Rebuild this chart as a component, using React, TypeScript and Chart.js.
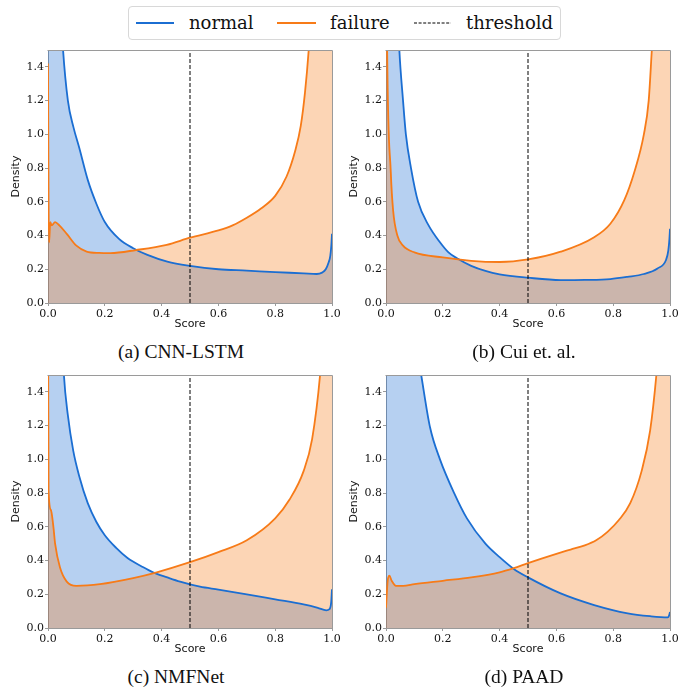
import React, { useEffect, useRef } from "react";
import { Chart, registerables } from "chart.js";

Chart.register(...registerables);

// ---------- data ----------
const xTicks = [0, 0.2, 0.4, 0.6, 0.8, 1.0];
const yTicks = [0, 0.2, 0.4, 0.6, 0.8, 1.0, 1.2, 1.4];
const thresholdScore = 0.5;
const seriesNames = ["normal", "failure", "threshold"];

// (a) CNN-LSTM
const aNormalX = [0, 0.02, 0.04, 0.053, 0.07, 0.09, 0.11, 0.14, 0.17, 0.2, 0.25, 0.3, 0.35, 0.42, 0.5, 0.6, 0.7, 0.8, 0.9, 0.946, 0.965, 0.978, 0.988, 0.994, 0.998, 1.0];
const aNormalY = [6.0, 3.2, 1.9, 1.5, 1.2, 1.04, 0.92, 0.73, 0.59, 0.48, 0.38, 0.325, 0.285, 0.245, 0.22, 0.2, 0.192, 0.183, 0.176, 0.172, 0.18, 0.2, 0.24, 0.28, 0.35, 0.41];
const aFailureX = [0, 0.002, 0.004, 0.008, 0.013, 0.025, 0.04, 0.066, 0.1, 0.136, 0.18, 0.22, 0.31, 0.418, 0.5, 0.6, 0.65, 0.7, 0.75, 0.8, 0.84, 0.87, 0.89, 0.905, 0.918, 0.935, 0.96, 1.0];
const aFailureY = [1.42, 0.6, 0.36, 0.48, 0.46, 0.48, 0.46, 0.41, 0.34, 0.305, 0.297, 0.296, 0.314, 0.345, 0.387, 0.43, 0.46, 0.505, 0.56, 0.635, 0.75, 0.9, 1.05, 1.25, 1.5, 1.95, 2.8, 5.0];

// (b) Cui et. al.
const bNormalX = [0, 0.02, 0.035, 0.047, 0.06, 0.07, 0.088, 0.113, 0.15, 0.19, 0.22, 0.25, 0.3, 0.35, 0.4, 0.5, 0.615, 0.7, 0.79, 0.85, 0.908, 0.956, 0.986, 0.994, 0.998, 1.0];
const bNormalY = [6.0, 3.0, 2.0, 1.5, 1.2, 1.0, 0.8, 0.6, 0.46, 0.36, 0.3, 0.265, 0.22, 0.19, 0.17, 0.15, 0.136, 0.137, 0.142, 0.155, 0.172, 0.205, 0.255, 0.31, 0.38, 0.44];
const bFailureX = [0, 0.004, 0.017, 0.025, 0.04, 0.06, 0.1, 0.2, 0.3, 0.4, 0.5, 0.615, 0.733, 0.79, 0.839, 0.875, 0.908, 0.925, 0.936, 0.95, 0.97, 1.0];
const bFailureY = [2.5, 1.5, 0.77, 0.55, 0.4, 0.34, 0.3, 0.27, 0.25, 0.243, 0.258, 0.304, 0.39, 0.47, 0.61, 0.78, 1.0, 1.2, 1.5, 1.9, 2.6, 5.0];

// (c) NMFNet
const cNormalX = [0, 0.03, 0.056, 0.07, 0.089, 0.11, 0.14, 0.17, 0.2, 0.24, 0.28, 0.33, 0.37, 0.42, 0.465, 0.535, 0.6, 0.7, 0.8, 0.9, 0.95, 0.98, 0.99, 0.997, 1.0];
const cNormalY = [6.0, 2.5, 1.5, 1.26, 1.05, 0.9, 0.74, 0.63, 0.55, 0.475, 0.415, 0.365, 0.33, 0.3, 0.275, 0.245, 0.228, 0.2, 0.17, 0.14, 0.12, 0.105, 0.11, 0.15, 0.23];
const cFailureX = [0, 0.002, 0.01, 0.019, 0.025, 0.042, 0.066, 0.1, 0.183, 0.3, 0.383, 0.5, 0.6, 0.7, 0.8, 0.85, 0.9, 0.93, 0.958, 0.975, 1.0];
const cFailureY = [2.0, 0.82, 0.7, 0.6, 0.5, 0.36, 0.275, 0.25, 0.26, 0.296, 0.33, 0.39, 0.45, 0.52, 0.65, 0.76, 0.93, 1.12, 1.5, 1.9, 3.0];

// (d) PAAD
const dNormalX = [0, 0.05, 0.1, 0.124, 0.155, 0.19, 0.24, 0.285, 0.35, 0.4, 0.45, 0.5, 0.615, 0.733, 0.851, 0.93, 0.992, 0.997, 1.0];
const dNormalY = [4.5, 2.5, 1.75, 1.5, 1.19, 1.0, 0.8, 0.65, 0.5, 0.42, 0.35, 0.3, 0.205, 0.136, 0.087, 0.07, 0.063, 0.075, 0.095];
const dFailureX = [0, 0.006, 0.012, 0.02, 0.035, 0.06, 0.1, 0.2, 0.3, 0.4, 0.45, 0.5, 0.6, 0.65, 0.7, 0.74, 0.78, 0.82, 0.86, 0.9, 0.93, 0.952, 0.975, 1.0];
const dFailureY = [0.12, 0.28, 0.31, 0.28, 0.25, 0.25, 0.26, 0.28, 0.3, 0.33, 0.355, 0.385, 0.44, 0.465, 0.49, 0.52, 0.57, 0.64, 0.74, 0.93, 1.17, 1.5, 2.0, 3.0];

const captions = ["(a) CNN-LSTM", "(b) Cui et. al.", "(c) NMFNet", "(d) PAAD"];

// ---------- styles / layout ----------
const BLUE = "#1b6ed2";
const BLUE_FILL = "rgba(27,110,210,0.32)";
const ORANGE = "#f77b18";
const ORANGE_FILL = "rgba(247,123,24,0.32)";
const AXIS_GREY = "#9a9a9a";

const CANVAS_W = 345;
const CANVAS_H = 293;

type PanelLayout = { left: number; top: number; capX: number; capY: number };
const layouts: PanelLayout[] = [
  { left: 0, top: 42, capX: 181, capY: 352 },
  { left: 338, top: 42, capX: 524, capY: 352 },
  { left: 0, top: 367, capX: 176, capY: 677 },
  { left: 338, top: 367, capX: 524, capY: 677 },
];

const panelData = [
  [aNormalX, aNormalY, aFailureX, aFailureY],
  [bNormalX, bNormalY, bFailureX, bFailureY],
  [cNormalX, cNormalY, cFailureX, cFailureY],
  [dNormalX, dNormalY, dFailureX, dFailureY],
];

const zip = (xs: number[], ys: number[]) => xs.map((x, i) => ({ x, y: ys[i] }));

const framePlugin = {
  id: "frame",
  afterDatasetsDraw(chart: any) {
    const { ctx, chartArea } = chart;
    ctx.save();
    ctx.strokeStyle = AXIS_GREY;
    ctx.lineWidth = 1;
    ctx.beginPath();
    ctx.moveTo(Math.round(chartArea.left) - 0.5, Math.round(chartArea.top) + 0.5);
    ctx.lineTo(Math.round(chartArea.right) + 0.5, Math.round(chartArea.top) + 0.5);
    ctx.lineTo(Math.round(chartArea.right) + 0.5, Math.round(chartArea.bottom));
    ctx.stroke();
    ctx.restore();
  },
};

function PanelChart({ index }: { index: number }) {
  const ref = useRef<HTMLCanvasElement | null>(null);
  useEffect(() => {
    const [nx, ny, fx, fy] = panelData[index];
    const chart = new Chart(ref.current as HTMLCanvasElement, {
      type: "line",
      data: {
        datasets: [
          {
            label: seriesNames[0],
            data: zip(nx, ny),
            borderColor: BLUE,
            backgroundColor: BLUE_FILL,
            fill: "origin",
            borderWidth: 1.8,
            pointRadius: 0,
            cubicInterpolationMode: "monotone",
            order: 3,
          },
          {
            label: seriesNames[1],
            data: zip(fx, fy),
            borderColor: ORANGE,
            backgroundColor: ORANGE_FILL,
            fill: "origin",
            borderWidth: 1.8,
            pointRadius: 0,
            cubicInterpolationMode: "monotone",
            order: 2,
          },
          {
            label: seriesNames[2],
            data: [
              { x: thresholdScore, y: 0 },
              { x: thresholdScore, y: 1.5 },
            ],
            borderColor: "#000",
            borderWidth: 1,
            borderDash: [4, 2],
            pointRadius: 0,
            fill: false,
            order: 1,
          },
        ],
      } as any,
      options: {
        animation: false,
        responsive: false,
        layout: { padding: { top: 8, right: 13, bottom: 0, left: 0 } },
        plugins: {
          legend: { display: false },
          tooltip: { enabled: false },
          filler: { drawTime: "beforeDatasetsDraw" },
        } as any,
        scales: {
          x: {
            type: "linear",
            min: 0,
            max: 1,
            afterBuildTicks: (s: any) => {
              s.ticks = xTicks.map((v) => ({ value: v }));
            },
            afterFit: (s: any) => {
              s.height = 32;
            },
            ticks: {
              callback: (v: any) => Number(v).toFixed(1),
              font: { family: "DejaVu Serif", size: 11 },
              color: "#111",
              padding: 2,
              maxRotation: 0,
              autoSkip: false,
            },
            grid: { drawOnChartArea: false, drawTicks: true, tickLength: 3, color: AXIS_GREY },
            border: { color: AXIS_GREY, width: 1 },
            title: {
              display: true,
              text: "Score",
              font: { family: "DejaVu Sans", size: 11 },
              color: "#111",
              padding: { top: 0, bottom: 4 },
            },
          },
          y: {
            type: "linear",
            min: 0,
            max: 1.5,
            afterBuildTicks: (s: any) => {
              s.ticks = yTicks.map((v) => ({ value: v }));
            },
            afterFit: (s: any) => {
              s.width = 48;
            },
            ticks: {
              callback: (v: any) => Number(v).toFixed(1),
              font: { family: "DejaVu Serif", size: 11 },
              color: "#111",
              padding: 1,
              autoSkip: false,
            },
            grid: { drawOnChartArea: false, drawTicks: true, tickLength: 3, color: AXIS_GREY },
            border: { color: AXIS_GREY, width: 1 },
            title: {
              display: true,
              text: "Density",
              font: { family: "DejaVu Sans", size: 11 },
              color: "#111",
              padding: { top: 10, bottom: 0 },
            },
          },
        },
      } as any,
      plugins: [framePlugin],
    });
    return () => chart.destroy();
  }, [index]);
  const L = layouts[index];
  return (
    <>
      <canvas
        ref={ref}
        width={CANVAS_W}
        height={CANVAS_H}
        style={{ position: "absolute", left: L.left, top: L.top, width: CANVAS_W, height: CANVAS_H }}
      />
      <div
        style={{
          position: "absolute",
          left: L.capX,
          top: L.capY,
          transform: "translate(-50%, -50%)",
          fontFamily: "'Liberation Serif', 'Times New Roman', serif",
          fontSize: 19.5,
          lineHeight: 1,
          whiteSpace: "nowrap",
          color: "#111",
        }}
      >
        {captions[index]}
      </div>
    </>
  );
}

function Legend() {
  const text: React.CSSProperties = {
    position: "absolute",
    top: 16,
    transform: "translateY(-50%)",
    fontFamily: "'DejaVu Serif', serif",
    fontSize: 18,
    lineHeight: 1,
    color: "#111",
    whiteSpace: "nowrap",
  };
  return (
    <div
      style={{
        position: "absolute",
        left: 128,
        top: 6,
        width: 433,
        height: 34,
        border: "1px solid #d8d8d8",
        borderRadius: 4,
        background: "#fff",
        boxSizing: "border-box",
      }}
    >
      <svg width={431} height={32} style={{ position: "absolute", left: 0, top: 0 }}>
        <line x1={7} x2={45} y1={16} y2={16} stroke={BLUE} strokeWidth={1.8} />
        <line x1={148} x2={187} y1={16} y2={16} stroke={ORANGE} strokeWidth={1.8} />
        <line x1={285} x2={322} y1={16} y2={16} stroke="#000" strokeWidth={1} strokeDasharray="3 1.6" />
      </svg>
      <div style={{ ...text, left: 60 }}>{seriesNames[0]}</div>
      <div style={{ ...text, left: 201 }}>{seriesNames[1]}</div>
      <div style={{ ...text, left: 337 }}>{seriesNames[2]}</div>
    </div>
  );
}

export default function App() {
  return (
    <div style={{ position: "absolute", left: 0, top: 0, width: 691, height: 690, background: "#fff", overflow: "hidden" }}>
      <Legend />
      {[0, 1, 2, 3].map((i) => (
        <PanelChart key={i} index={i} />
      ))}
    </div>
  );
}
